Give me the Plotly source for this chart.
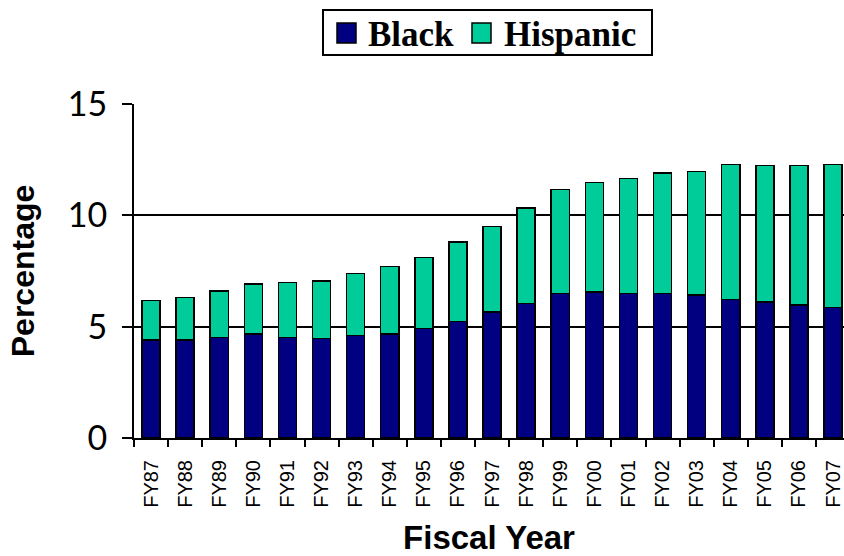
import plotly.graph_objects as go

years = ["FY87", "FY88", "FY89", "FY90", "FY91", "FY92", "FY93", "FY94", "FY95", "FY96", "FY97",
         "FY98", "FY99", "FY00", "FY01", "FY02", "FY03", "FY04", "FY05", "FY06", "FY07"]
black = [4.41, 4.41, 4.52, 4.67, 4.52, 4.47, 4.61, 4.67, 4.91, 5.23, 5.66,
         6.04, 6.49, 6.55, 6.49, 6.49, 6.43, 6.23, 6.11, 5.98, 5.86]
total = [6.17, 6.31, 6.61, 6.92, 6.98, 7.04, 7.39, 7.70, 8.10, 8.80, 9.50,
         10.33, 11.15, 11.47, 11.65, 11.91, 11.97, 12.28, 12.24, 12.24, 12.28]
hispanic = [round(t - b, 2) for t, b in zip(total, black)]
series_names = ["Black", "Hispanic"]
series_colors = ["#000080", "#00CC99"]

fig = go.Figure()
for name, vals, col in zip(series_names, [black, hispanic], series_colors):
    fig.add_trace(go.Bar(x=years, y=vals, name=name, showlegend=False,
                         marker=dict(color=col, line=dict(color="black", width=1.5))))

# Custom legend box (paper coordinates, above the plot area)
PX0, PW, PY0, PH = 134, 710, 438, 334
def px(x):
    return (x - PX0) / PW
def py(y):
    return (PY0 - y) / PH

shapes = [dict(type="rect", xref="paper", yref="paper", x0=px(323), x1=px(652), y0=py(55), y1=py(10),
               line=dict(color="black", width=2), fillcolor="white")]
annotations = []
for (sq_x, tx_x), name, col in zip([(337, 366), (472, 502)], series_names, series_colors):
    shapes.append(dict(type="rect", xref="paper", yref="paper", x0=px(sq_x), x1=px(sq_x + 19),
                       y0=py(43), y1=py(23), line=dict(color="black", width=1.5), fillcolor=col))
    annotations.append(dict(text=name, xref="paper", yref="paper", x=px(tx_x), y=py(34),
                            xanchor="left", yanchor="middle", showarrow=False,
                            font=dict(family="Liberation Serif", size=35, color="black", weight="bold")))

fig.update_layout(
    barmode="stack",
    bargap=0.47,
    width=844, height=556,
    margin=dict(l=134, r=0, t=104, b=118, autoexpand=False),
    plot_bgcolor="white", paper_bgcolor="white",
    showlegend=False,
    shapes=shapes,
    annotations=annotations,
    xaxis=dict(type="category", range=[-0.5, 20.32], showline=True, linecolor="black", linewidth=2,
               ticks="outside", tickson="boundaries", ticklen=7, tickcolor="black", tickwidth=1.5,
               tickangle=-90, tickfont=dict(family="Arial", size=20, color="black"),
               ticklabelstandoff=12,
               title=dict(text="Fiscal Year", font=dict(family="Arial", size=33, color="black", weight="bold"), standoff=19)),
    yaxis=dict(range=[0, 15], tickvals=[0, 5, 10, 15], showline=True, linecolor="black", linewidth=2,
               ticks="outside", ticklen=10, tickcolor="black", tickwidth=1.5,
               showgrid=True, gridcolor="black", gridwidth=1.5, zeroline=False,
               tickfont=dict(family="Lato", size=34, color="black"),
               ticklabelstandoff=8,
               title=dict(text="Percentage", font=dict(family="Arial", size=32, color="black", weight="bold"), standoff=24)),
)

fig.write_html("out.html", config={"displayModeBar": False},
               post_script="document.body.style.margin='0';document.body.style.overflow='hidden';")
